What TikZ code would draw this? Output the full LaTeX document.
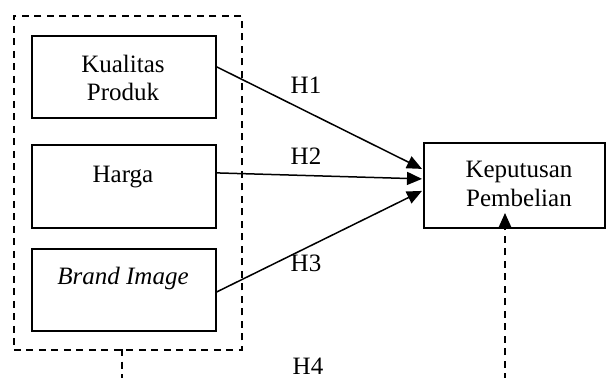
\documentclass[tikz,border=0pt]{standalone}
\usepackage{fontspec}
\setmainfont{Liberation Serif}
\usetikzlibrary{arrows.meta,calc}
\begin{document}
\begin{tikzpicture}[x=1pt,y=-1pt,
  box/.style={draw,line width=1.8pt,minimum width=184pt,minimum height=82pt,
    inner sep=0pt,anchor=north west},
  lbl/.style={font=\fontsize{25}{28}\selectfont,anchor=base,inner sep=0pt},
  link/.style={line width=1.5pt,-{Triangle[length=15pt,width=13pt]}},
  dsh/.style={line width=1.7pt,dash pattern=on 7pt off 5.5pt}]
\useasboundingbox (0,0) rectangle (606,378);

% group of independent variables
\node[draw,dsh,minimum width=228pt,minimum height=334pt,inner sep=0pt,
  anchor=north west] (grp) at (13,15) {};

% independent variables
\node[box] (kp) at (31,35) {};
\node[box,minimum height=83pt] (hg) at (31,144) {};
\node[box] (bi) at (31,248) {};
\node[lbl] (kpa) at (123,72) {Kualitas};
\node[lbl] (kpb) at (123,100) {Produk};
\node[lbl] (hga) at (123,182) {Harga};
\node[lbl,font=\fontsize{25}{28}\selectfont\itshape] (bia) at (123,284) {Brand Image};

% dependent variable
\node[box,minimum width=181pt,minimum height=85pt] (kep) at (423,142) {};
\node[lbl] (kepa) at (519,177) {Keputusan};
\node[lbl] (kepb) at (519,206) {Pembelian};

% hypotheses
\draw[link] ($(kp.east)+(0,-10)$) -- ($(kep.west)+(-1,-16.5)$);
\draw[link] ($(hg.east)+(0,-13.5)$) -- ($(kep.west)+(-1,-6.5)$);
\draw[link] ($(bi.east)+(0,2)$) -- ($(kep.west)+(-1,5.5)$);
\node[lbl] (h1) at (306,93) {H1};
\node[lbl] (h2) at (306,164) {H2};
\node[lbl] (h3) at (306,271) {H3};
\node[lbl] (h4) at (308,374) {H4};

% simultaneous effect
\coordinate (gs) at (122,349);
\coordinate (ge) at (122,380);
\coordinate (ks) at (505,380);
\coordinate (kt) at (505,213);
\draw[dsh] (gs) -- (ge);
\draw[dsh,-{Triangle[length=15pt,width=13pt]}] (ks) -- (kt);
\end{tikzpicture}
\end{document}
